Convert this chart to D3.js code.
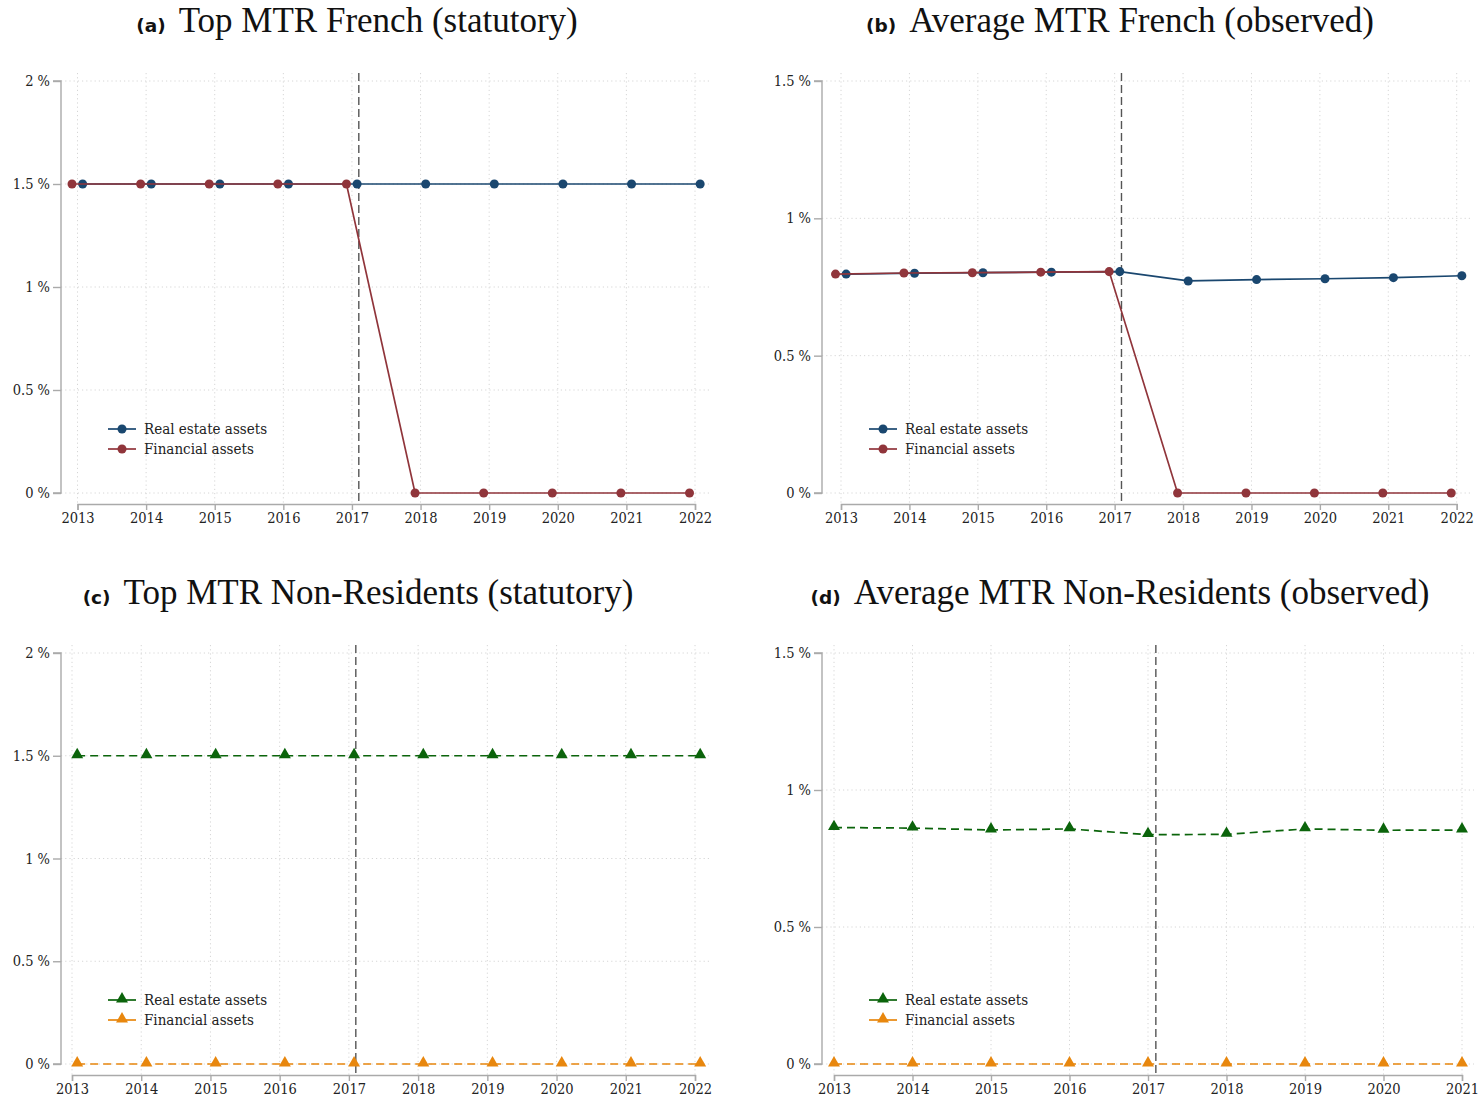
<!DOCTYPE html>
<html>
<head>
<meta charset="utf-8">
<script src="https://cdn.jsdelivr.net/npm/d3@7"></script>
<style>
  html, body { margin: 0; padding: 0; background: #fff; }
  svg { display: block; }
  .tick-lbl { font-family: "DejaVu Serif Condensed", "DejaVu Serif", serif; font-stretch: condensed; font-size: 14.5px; fill: #222; }
  .leg-lbl { font-family: "DejaVu Serif Condensed", "DejaVu Serif", serif; font-stretch: condensed; font-size: 15px; fill: #222; }
  .ttl { font-family: "Liberation Serif", "Times New Roman", serif; font-size: 35px; fill: #111; }
  .ttl-tag { font-family: "DejaVu Sans", sans-serif; font-weight: bold; font-size: 18.5px; fill: #111; }
</style>
</head>
<body>
<script>
// ---------- data ----------
const yearsAll = [2013, 2014, 2015, 2016, 2017, 2018, 2019, 2020, 2021, 2022];
const yearsD = [2013, 2014, 2015, 2016, 2017, 2018, 2019, 2020, 2021];

const aReal = [1.5, 1.5, 1.5, 1.5, 1.5, 1.5, 1.5, 1.5, 1.5, 1.5];
const aFin  = [1.5, 1.5, 1.5, 1.5, 1.5, 0, 0, 0, 0, 0];

const bReal = [0.797, 0.800, 0.802, 0.804, 0.806, 0.772, 0.777, 0.780, 0.784, 0.791];
const bFin  = [0.797, 0.801, 0.802, 0.804, 0.806, 0, 0, 0, 0, 0];

const cReal = [1.5, 1.5, 1.5, 1.5, 1.5, 1.5, 1.5, 1.5, 1.5, 1.5];
const cFin  = [0, 0, 0, 0, 0, 0, 0, 0, 0, 0];

const dReal = [0.863, 0.861, 0.854, 0.858, 0.837, 0.838, 0.858, 0.853, 0.854];
const dFin  = [0, 0, 0, 0, 0, 0, 0, 0, 0];

const yTicks2 = [0, 0.5, 1, 1.5, 2];
const yTicks15 = [0, 0.5, 1, 1.5];
const yTickLabels = {0: "0 %", 0.5: "0.5 %", 1: "1 %", 1.5: "1.5 %", 2: "2 %"};
const seriesNames = ["Real estate assets", "Financial assets"];
const reformYear = 2017.1;

const titles = [
  {tag: "(a)", text: "Top MTR French (statutory)"},
  {tag: "(b)", text: "Average MTR French (observed)"},
  {tag: "(c)", text: "Top MTR Non-Residents (statutory)"},
  {tag: "(d)", text: "Average MTR Non-Residents (observed)"}
];

const colors = {blue: "#1a476f", red: "#90353b", green: "#0b640b", orange: "#e8870e"};

// ---------- drawing ----------
const svg = d3.select("body").append("svg").attr("width", 1484).attr("height", 1099);

function panel(cfg) {
  const g = svg.append("g");
  const x = d3.scaleLinear().domain([cfg.years[0], cfg.years[cfg.years.length - 1]]).range([cfg.x0, cfg.x1]);
  const y = d3.scaleLinear().domain([0, d3.max(cfg.yTicks)]).range([cfg.yBottom, cfg.yTop]);

  // title
  const t = g.append("text").attr("x", cfg.titleX).attr("y", cfg.titleY).attr("text-anchor", "middle");
  t.append("tspan").attr("class", "ttl-tag").text(cfg.title.tag);
  t.append("tspan").attr("class", "ttl").attr("dx", 13).text(cfg.title.text);

  // grid
  g.append("g").selectAll("line").data(cfg.years).join("line")
    .attr("x1", d => x(d)).attr("x2", d => x(d))
    .attr("y1", cfg.plotTop).attr("y2", cfg.axisY)
    .attr("stroke", "#d6d6d6").attr("stroke-width", 1).attr("stroke-dasharray", "1.2,3");
  g.append("g").selectAll("line").data(cfg.yTicks).join("line")
    .attr("x1", cfg.yAxisX).attr("x2", cfg.right)
    .attr("y1", d => y(d)).attr("y2", d => y(d))
    .attr("stroke", "#d6d6d6").attr("stroke-width", 1).attr("stroke-dasharray", "1.2,3");

  // y axis
  const yAx = d3.axisLeft(y).tickValues(cfg.yTicks).tickFormat(d => yTickLabels[d]).tickSize(8).tickPadding(3);
  const ya = g.append("g").attr("transform", `translate(${cfg.yAxisX},0)`).call(yAx);
  ya.select(".domain").attr("stroke", "#aaa").attr("stroke-width", 1.4).attr("d", `M-8,${y(d3.max(cfg.yTicks))}H0V${y(0)}H-8`);
  ya.selectAll(".tick line").attr("stroke", "#aaa").attr("stroke-width", 1.4);
  ya.selectAll(".tick text").attr("class", "tick-lbl").attr("font-family", null).attr("font-size", null);

  // x axis
  const xAx = d3.axisBottom(x).tickValues(cfg.years).tickFormat(d3.format("d")).tickSize(6).tickPadding(3);
  const xa = g.append("g").attr("transform", `translate(0,${cfg.axisY})`).call(xAx);
  xa.select(".domain").attr("stroke", "#aaa").attr("stroke-width", 1.4);
  xa.selectAll(".tick line").attr("stroke", "#aaa").attr("stroke-width", 1.4);
  xa.selectAll(".tick text").attr("class", "tick-lbl").attr("font-family", null).attr("font-size", null);

  // reform line
  g.append("line").attr("x1", x(reformYear)).attr("x2", x(reformYear))
    .attr("y1", cfg.plotTop).attr("y2", cfg.axisY)
    .attr("stroke", "#555").attr("stroke-width", 1.4).attr("stroke-dasharray", "8,4");

  const symFor = s => d3.symbol().type(s.marker === "tri" ? d3.symbolTriangle : d3.symbolCircle).size(s.marker === "tri" ? 62 : 64);

  // series
  cfg.series.forEach(s => {
    const pts = cfg.years.map((yr, i) => [yr + s.offset, s.values[i]]);
    g.append("path").datum(pts)
      .attr("fill", "none").attr("stroke", s.color).attr("stroke-width", 1.7)
      .attr("stroke-dasharray", s.dash || null)
      .attr("d", d3.line().x(d => x(d[0])).y(d => y(d[1])));
    g.append("g").selectAll("path").data(pts).join("path")
      .attr("transform", d => `translate(${x(d[0])},${y(d[1]) + (s.marker === "tri" ? -1 : 0)})`)
      .attr("d", symFor(s)).attr("fill", s.color);
  });

  // legend
  cfg.legendSeries.forEach((s, i) => {
    const ly = cfg.legendY + i * 20;
    g.append("line").attr("x1", cfg.yAxisX + 47).attr("x2", cfg.yAxisX + 75)
      .attr("y1", ly).attr("y2", ly).attr("stroke", s.color).attr("stroke-width", 1.7);
    g.append("path").attr("transform", `translate(${cfg.yAxisX + 61},${ly + (s.marker === "tri" ? -1 : 0)})`)
      .attr("d", symFor(s)).attr("fill", s.color);
    g.append("text").attr("class", "leg-lbl").attr("x", cfg.yAxisX + 83).attr("y", ly + 5).text(seriesNames[i]);
  });
}

const sA = [
  {values: aReal, color: colors.blue, marker: "circle", offset: 0.075},
  {values: aFin, color: colors.red, marker: "circle", offset: -0.08}
];
panel({title: titles[0], titleX: 357, titleY: 32, years: yearsAll, yTicks: yTicks2,
  x0: 77.5, x1: 695, yAxisX: 61, right: 711, yTop: 81, yBottom: 493, plotTop: 73, axisY: 504,
  series: sA, legendSeries: sA, legendY: 429});

const sB = [
  {values: bReal, color: colors.blue, marker: "circle", offset: 0.075},
  {values: bFin, color: colors.red, marker: "circle", offset: -0.08}
];
panel({title: titles[1], titleX: 1120, titleY: 32, years: yearsAll, yTicks: yTicks15,
  x0: 841, x1: 1456.7, yAxisX: 822, right: 1472, yTop: 81, yBottom: 493, plotTop: 73, axisY: 504,
  series: sB, legendSeries: sB, legendY: 429});

const sC = [
  {values: cReal, color: colors.green, marker: "tri", offset: 0.075, dash: "8,5"},
  {values: cFin, color: colors.orange, marker: "tri", offset: 0.075, dash: "8,5"}
];
panel({title: titles[2], titleX: 358, titleY: 604, years: yearsAll, yTicks: yTicks2,
  x0: 72, x1: 695, yAxisX: 61, right: 711, yTop: 653, yBottom: 1064, plotTop: 645, axisY: 1075,
  series: sC, legendSeries: sC, legendY: 1000});

const sD = [
  {values: dReal, color: colors.green, marker: "tri", offset: 0, dash: "8,5"},
  {values: dFin, color: colors.orange, marker: "tri", offset: 0, dash: "8,5"}
];
panel({title: titles[3], titleX: 1120, titleY: 604, years: yearsD, yTicks: yTicks15,
  x0: 834, x1: 1462, yAxisX: 822, right: 1474, yTop: 653, yBottom: 1064, plotTop: 645, axisY: 1075,
  series: sD, legendSeries: sD, legendY: 1000});
</script>
</body>
</html>
